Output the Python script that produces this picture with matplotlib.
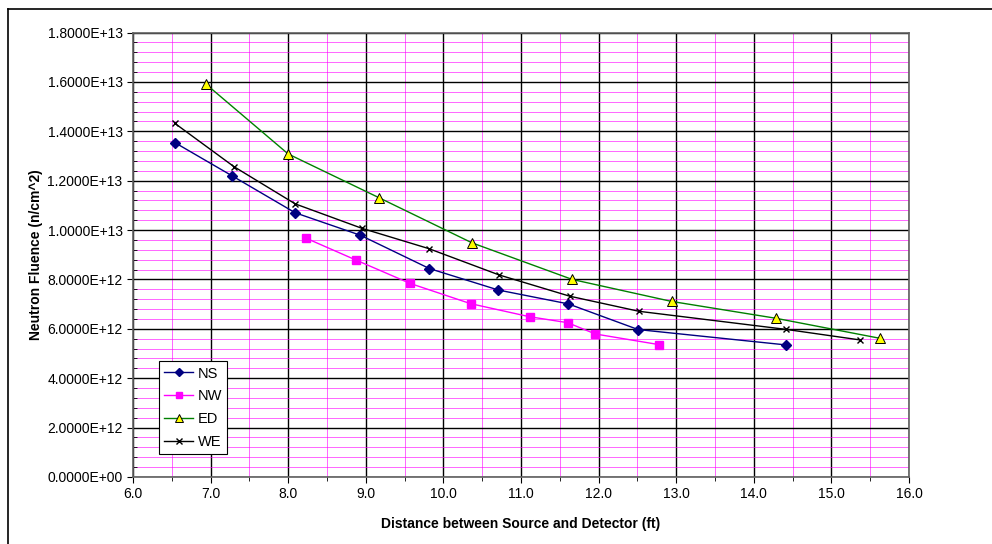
import matplotlib
matplotlib.use("Agg")
import matplotlib.pyplot as plt
from matplotlib.ticker import MultipleLocator, FuncFormatter
from matplotlib.lines import Line2D

plt.rcParams['font.family'] = ['Liberation Sans', 'DejaVu Sans']

ns_x = [6.54, 7.28, 8.09, 8.93, 9.82, 10.71, 11.61, 12.51, 14.41]
ns_y = [1.354e13, 1.219e13, 1.070e13, 9.79e12, 8.44e12, 7.57e12, 7.01e12, 5.97e12, 5.35e12]

nw_x = [8.23, 8.87, 9.57, 10.35, 11.11, 11.60, 11.96, 12.78]
nw_y = [9.67e12, 8.79e12, 7.84e12, 7.02e12, 6.49e12, 6.25e12, 5.79e12, 5.36e12]

ed_x = [6.94, 8.00, 9.17, 10.37, 11.66, 12.94, 14.28, 15.62]
ed_y = [1.591e13, 1.308e13, 1.131e13, 9.48e12, 8.00e12, 7.11e12, 6.43e12, 5.62e12]

we_x = [6.54, 7.30, 8.09, 8.95, 9.81, 10.72, 11.63, 12.52, 14.41, 15.37]
we_y = [1.432e13, 1.257e13, 1.106e13, 1.007e13, 9.25e12, 8.18e12, 7.32e12, 6.71e12, 5.98e12, 5.55e12]

fig = plt.figure(figsize=(9.92, 5.44), dpi=100)
ax = fig.add_axes([133/992, 1 - 477/544, (909-133)/992, (477-32.5)/544])

ax.set_xlim(6.0, 16.0)
ax.set_ylim(0, 1.8e13)
ax.xaxis.set_major_locator(MultipleLocator(1.0))
ax.xaxis.set_minor_locator(MultipleLocator(0.5))
ax.yaxis.set_major_locator(MultipleLocator(2e12))
ax.yaxis.set_minor_locator(MultipleLocator(4e11))
ax.xaxis.set_major_formatter(FuncFormatter(lambda v, p: f"{v:.1f}"))
ax.yaxis.set_major_formatter(FuncFormatter(lambda v, p: f"{v:.4E}"))

ax.grid(which='minor', color='#FF00FF', linewidth=0.7, alpha=0.6)
ax.grid(which='major', color='black', linewidth=1.0)
ax.set_axisbelow(True)

ax.tick_params(which='major', direction='out', length=4, labelsize=10, colors='black')
ax.tick_params(axis='y', which='minor', direction='in', length=3)
ax.tick_params(axis='x', which='minor', direction='out', length=3)
for s in ax.spines.values():
    s.set_color('#606060')
    s.set_linewidth(1.2)

ax.plot(ns_x, ns_y, color='#000080', lw=1.0, marker='D', ms=5, mfc='#000080', mec='#000080', label='NS', zorder=3)
ax.plot(nw_x, nw_y, color='#FF00FF', lw=1.0, marker='s', ms=5.5, mfc='#FF00FF', mec='#FF00FF', label='NW', zorder=3)
ax.plot(ed_x, ed_y, color='#008000', lw=1.0, marker='^', ms=6.5, mfc='#FFFF00', mec='black', mew=0.7, label='ED', zorder=3)
ax.plot(we_x, we_y, color='black', lw=1.0, marker='x', ms=5, mec='black', mew=1.0, label='WE', zorder=3)

ax.set_xlabel('Distance between Source and Detector (ft)', fontsize=10, fontweight='bold', labelpad=11)
ax.set_ylabel('Neutron Fluence (n/cm^2)', fontsize=10, fontweight='bold', labelpad=3)

leg = ax.legend(loc='lower left', bbox_to_anchor=(0.0335, 0.052), fontsize=10.5, frameon=True,
                fancybox=False, edgecolor='black', framealpha=1, handlelength=2.0,
                borderpad=0.35, labelspacing=0.6, handletextpad=0.3, borderaxespad=0,
                markerscale=0.85)
leg.get_frame().set_linewidth(0.8)

fig.add_artist(Line2D([8/992, 8/992], [0, 1 - 9/544], transform=fig.transFigure, color='black', lw=1.2))
fig.add_artist(Line2D([8/992, 1], [1 - 9/544, 1 - 9/544], transform=fig.transFigure, color='black', lw=1.2))

fig.savefig('out.png', dpi=100)
